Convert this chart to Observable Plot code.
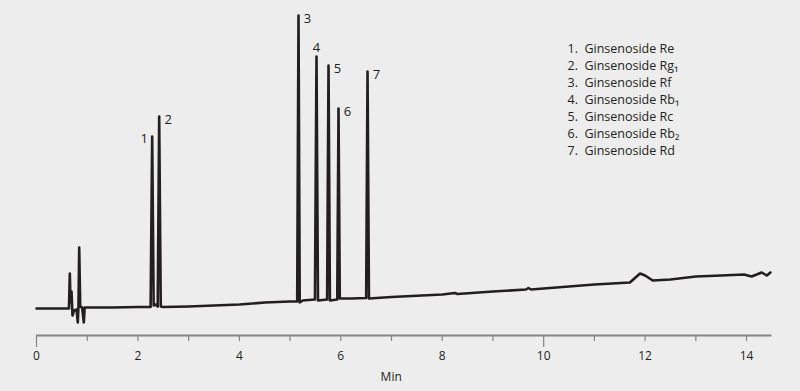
<!DOCTYPE html>
<html>
<head>
<meta charset="utf-8">
<script src="https://cdn.jsdelivr.net/npm/d3@7"></script>
<script src="https://cdn.jsdelivr.net/npm/@observablehq/plot@0.6"></script>
<style>
  html, body { margin: 0; padding: 0; background: #ededed; }
  #chart { width: 800px; height: 391px; }
</style>
</head>
<body>
<div id="chart"></div>
<script>
// Chromatogram trace: time (min) and detector signal (arbitrary units)
const traceTime = [
  0.00, 0.30, 0.60, 0.64, 0.657, 0.67, 0.69, 0.71, 0.74, 0.79, 0.814, 0.828, 0.842, 0.862, 0.90, 0.933, 0.95,
  1.00, 1.50, 2.00, 2.25, 2.281, 2.31, 2.35, 2.39, 2.419, 2.45, 2.50,
  3.00, 3.50, 4.00, 4.50, 5.00, 5.14, 5.166, 5.19, 5.25, 5.49, 5.521, 5.55, 5.73, 5.758, 5.785,
  5.93, 5.955, 5.98, 6.20, 6.50, 6.527, 6.555, 7.00, 8.00, 8.25, 8.30, 9.00, 9.65, 9.70, 9.75,
  10.00, 11.00, 11.70, 11.90, 12.00, 12.15, 12.50, 13.00, 13.50, 13.95, 14.10, 14.30, 14.40, 14.47
];
const traceSignal = [
  2, 2, 2, 2, 37, 8, 19, -5, 0, 1, -12, 5, 63, 4, 3, -12, 3,
  3, 3, 3.5, 3.5, 174, 5, 6, 4, 194, 4, 3.5,
  4, 5, 6, 8, 9, 9, 295, 8, 10, 11, 254, 10, 11, 245, 10,
  11, 202, 12, 12, 12.5, 239, 12, 13.5, 16, 17.5, 16.5, 19, 21, 22.5, 21,
  22, 26, 28, 37, 35, 30, 31, 34, 35, 36, 34, 38, 35, 38
];

// Peaks
const peakNumber = ["1", "2", "3", "4", "5", "6", "7"];
const peakTime = [2.281, 2.419, 5.166, 5.521, 5.758, 5.955, 6.527];
const peakHeight = [174, 194, 295, 254, 245, 202, 239];

// Legend
const legendLabels = [
  "1.  Ginsenoside Re",
  "2.  Ginsenoside Rg\u2081",
  "3.  Ginsenoside Rf",
  "4.  Ginsenoside Rb\u2081",
  "5.  Ginsenoside Rc",
  "6.  Ginsenoside Rb\u2082",
  "7.  Ginsenoside Rd"
];

// Axis ticks
const xTickLabels = [0, 2, 4, 6, 8, 10, 12, 14];
const xMinorTicks = [1, 2, 3, 4, 5, 6, 7, 8, 9, 11, 12, 13, 14];
const xMajorTicks = [0, 10];
const xLabel = "Min";

const trace = traceTime.map((t, i) => ({t, s: traceSignal[i]}));
const peaks = peakNumber.map((n, i) => ({n, t: peakTime[i], s: peakHeight[i]}));

const ink = "#231f20";
const axisGray = "#858585";

const chart = Plot.plot({
  width: 800,
  height: 391,
  marginLeft: 36,
  marginRight: 28.6,
  marginTop: 10,
  marginBottom: 56,
  x: {domain: [0, 14.5]},
  y: {domain: [-25, 300], axis: null},
  style: {background: "#ededed", fontFamily: "'Open Sans', sans-serif", color: ink, overflow: "visible"},
  marks: [
    Plot.ruleY([-25], {x1: 0, x2: 14.5, stroke: axisGray, strokeWidth: 2}),
    Plot.axisX({ticks: xMinorTicks, tickSize: 6, tickFormat: () => "", stroke: axisGray, strokeWidth: 1.2, label: null}),
    Plot.axisX({ticks: xMajorTicks, tickSize: 12, tickFormat: () => "", stroke: axisGray, strokeWidth: 1.2, label: null}),
    Plot.axisX({ticks: xTickLabels, tickSize: 0, tickPadding: 16, fontSize: 12, fill: ink, label: null}),
    Plot.text([xLabel], {frameAnchor: "bottom", dx: -13, dy: 45, fontSize: 12, fill: ink}),
    Plot.line(trace, {x: "t", y: "s", stroke: ink, strokeWidth: 2.6, strokeLinejoin: "round"}),
    // peak numbers
    Plot.text(peaks.filter(p => p.n === "1"), {x: "t", y: "s", text: "n", dx: -8, dy: 2, fontSize: 13, fill: ink}),
    Plot.text(peaks.filter(p => p.n === "4"), {x: "t", y: "s", text: "n", dx: 0, dy: -9, fontSize: 13, fill: ink}),
    Plot.text(peaks.filter(p => p.n !== "1" && p.n !== "4"), {x: "t", y: "s", text: "n", dx: 9, dy: 3, fontSize: 13, fill: ink}),
    // legend
    Plot.text([legendLabels.join("\n")], {frameAnchor: "top-left", dx: 531, dy: 30, lineAnchor: "top", lineHeight: 1.36, textAnchor: "start", fontSize: 12.5, fill: ink})
  ]
});
document.getElementById("chart").appendChild(chart);
</script>
</body>
</html>
